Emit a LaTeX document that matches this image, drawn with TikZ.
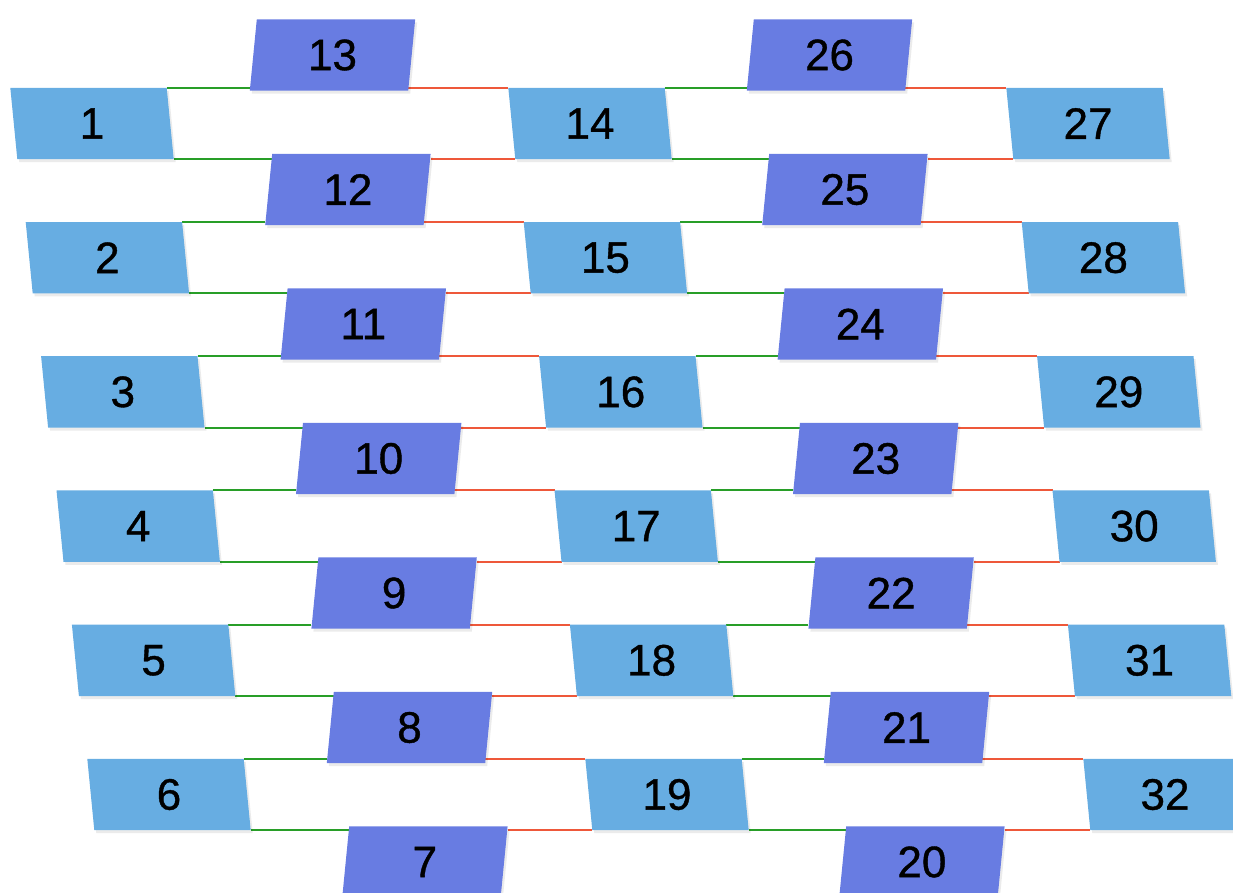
\documentclass[tikz,border=0pt]{standalone}
\usepackage{fontspec}
\setmainfont{Liberation Sans}
\newfontfamily\numfont[FakeBold=0.9]{Liberation Sans}
\usetikzlibrary{backgrounds}
\definecolor{lightbox}{RGB}{103,173,226}
\definecolor{darkbox}{RGB}{104,124,226}
\definecolor{gline}{RGB}{40,158,40}
\definecolor{rline}{RGB}{238,88,58}
\newcommand\lpar[4]{\fill[#2] ([xshift=#3-3.5pt,yshift=#4]#1.north west) -- ([xshift=#3-3.5pt,yshift=#4]#1.north east) -- ([xshift=#3+3.5pt,yshift=#4]#1.south east) -- ([xshift=#3+3.5pt,yshift=#4]#1.south west) -- cycle;}
\newcommand\dpar[4]{\fill[#2] ([xshift=#3+3.5pt,yshift=#4]#1.north west) -- ([xshift=#3+3.5pt,yshift=#4]#1.north east) -- ([xshift=#3-3.5pt,yshift=#4]#1.south east) -- ([xshift=#3-3.5pt,yshift=#4]#1.south west) -- cycle;}
\begin{document}
\begin{tikzpicture}[x=1pt,y=-1pt,
  box/.style={shape=rectangle, inner sep=0pt, minimum height=71pt, font=\numfont\fontsize{44}{44}\selectfont},
  lbox/.style={box, minimum width=156pt},
  dbox/.style={box, minimum width=158pt},
  glink/.style={draw=gline, line width=2pt},
  rlink/.style={draw=rline, line width=2pt},
  shade/.style={fill=black, opacity=0.08}]
\useasboundingbox (0,0) rectangle (1233,892);
\foreach \i in {0,...,5} {
  \pgfmathsetmacro\cy{123.5+134.2*\i}
  \pgfmathsetmacro\cx{92+15.4*\i}
  \pgfmathtruncatemacro\la{\i+1}
  \pgfmathtruncatemacro\lc{\i+14}
  \pgfmathtruncatemacro\le{\i+27}
  \node[lbox] (n\la) at (\cx,\cy) {\la};
  \node[lbox] (n\lc) at (\cx+498,\cy) {\lc};
  \node[lbox] (n\le) at (\cx+996,\cy) {\le};
}
\foreach \k in {0,...,6} {
  \pgfmathsetmacro\cy{55+134.5*\k}
  \pgfmathsetmacro\cx{332.5+15.4*\k}
  \pgfmathtruncatemacro\lb{13-\k}
  \pgfmathtruncatemacro\ld{26-\k}
  \node[dbox] (n\lb) at (\cx,\cy) {\lb};
  \node[dbox] (n\ld) at (\cx+497,\cy) {\ld};
}
\begin{pgfonlayer}{background}
\foreach \i in {0,...,5} {
  \pgfmathtruncatemacro\A{\i+1}
  \pgfmathtruncatemacro\Bt{13-\i}
  \pgfmathtruncatemacro\Bb{12-\i}
  \pgfmathtruncatemacro\C{14+\i}
  \pgfmathtruncatemacro\Dt{26-\i}
  \pgfmathtruncatemacro\Db{25-\i}
  \pgfmathtruncatemacro\E{27+\i}
  \draw[glink] ([xshift=-3.5pt]n\A.north east) -- ([xshift=-3.5pt]n\Bt.south west |- n\A.north);
  \draw[rlink] ([xshift=-3.5pt]n\Bt.south east |- n\A.north) -- ([xshift=-3.5pt]n\C.north west);
  \draw[glink] ([xshift=-3.5pt]n\C.north east) -- ([xshift=-3.5pt]n\Dt.south west |- n\C.north);
  \draw[rlink] ([xshift=-3.5pt]n\Dt.south east |- n\C.north) -- ([xshift=-3.5pt]n\E.north west);
  \draw[glink] ([xshift=3.5pt]n\A.south east) -- ([xshift=3.5pt]n\Bb.north west |- n\A.south);
  \draw[rlink] ([xshift=3.5pt]n\Bb.north east |- n\A.south) -- ([xshift=3.5pt]n\C.south west);
  \draw[glink] ([xshift=3.5pt]n\C.south east) -- ([xshift=3.5pt]n\Db.north west |- n\C.south);
  \draw[rlink] ([xshift=3.5pt]n\Db.north east |- n\C.south) -- ([xshift=3.5pt]n\E.south west);
}
\foreach \n in {1,...,6,14,15,16,17,18,19,27,28,29,30,31,32} {
  \lpar{n\n}{shade}{2pt}{-3pt}
  \lpar{n\n}{lightbox}{0pt}{0pt}
}
\foreach \n in {7,...,13,20,21,22,23,24,25,26} {
  \dpar{n\n}{shade}{2pt}{-3pt}
  \dpar{n\n}{darkbox}{0pt}{0pt}
}
\end{pgfonlayer}
\end{tikzpicture}
\end{document}
